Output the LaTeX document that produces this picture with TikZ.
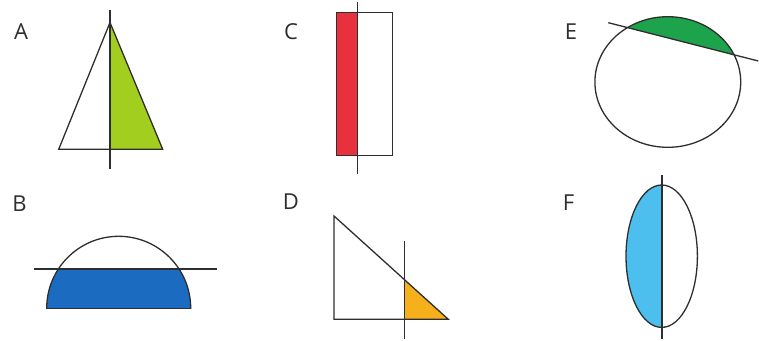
\documentclass[tikz,border=0pt]{standalone}
\usepackage{fontspec}
\setmainfont{Open Sans}
\definecolor{ink}{HTML}{2E2E2E}
\definecolor{limeA}{HTML}{A2CF1F}
\definecolor{redC}{HTML}{E8313C}
\definecolor{greenE}{HTML}{1CA34B}
\definecolor{blueB}{HTML}{1B6CC0}
\definecolor{orangeD}{HTML}{F6B01B}
\definecolor{skyF}{HTML}{4CBFEE}
\tikzset{
  outline/.style={draw=ink, line width=1.3pt, line join=miter},
  axisline/.style={draw=ink, line width=1.3pt},
  letter/.style={text=ink, font=\fontsize{22}{22}\selectfont, inner sep=0pt}
}
\begin{document}
\begin{tikzpicture}[x=1pt,y=-1pt]
\useasboundingbox (0,0) rectangle (759,340);
% labels
\node[letter] (lA) at (21,32) {A};
\node[letter] (lB) at (19.5,204) {B};
\node[letter] (lC) at (291,32) {C};
\node[letter] (lD) at (291,202) {D};
\node[letter] (lE) at (571,32) {E};
\node[letter] (lF) at (568.5,203) {F};
% A
\fill[limeA] (110,22.5) -- (162.7,149.3) -- (110,149.3) -- cycle;
\draw[outline] (110,22.5) -- (162.7,149.3) -- (58.7,149.3) -- cycle;
\draw[axisline] (110,10) -- (110,168.5);
% C
\fill[redC] (336.7,12.7) rectangle (357.7,155.3);
\draw[outline] (336.7,12.7) rectangle (392.7,155.3);
\draw[axisline] (357.7,2) -- (357.7,174);
% E
\begin{scope}
  \clip (590,18.1) -- (760,61.5) -- (760,0) -- (590,0) -- cycle;
  \fill[greenE] (667.8,82) ellipse [x radius=72.9, y radius=65.3];
\end{scope}
\draw[outline] (667.8,82) ellipse [x radius=72.9, y radius=65.3];
\draw[axisline] (608.3,22.7) -- (758.3,61);
% B
\begin{scope}
  \clip (40,269) rectangle (200,308.3);
  \fill[blueB] (118.7,308.3) circle [radius=72];
\end{scope}
\begin{scope}
  \clip (40,200) rectangle (200,308.3);
  \draw[outline] (118.7,308.3) circle [radius=72];
\end{scope}
\draw[outline] (46.7,308.3) -- (190.7,308.3);
\draw[axisline] (34,269) -- (216.7,269);
% D
\begin{scope}
  \clip (404.3,200) rectangle (460,330);
  \fill[orangeD] (334,216) -- (448.3,319.3) -- (334,319.3) -- cycle;
\end{scope}
\draw[outline] (334,216) -- (448.3,319.3) -- (334,319.3) -- cycle;
\draw[axisline] (404.3,241) -- (404.3,339.3);
% F
\begin{scope}
  \clip (600,170) rectangle (661.7,340);
  \fill[skyF] (661.7,256.2) ellipse [x radius=35.7, y radius=71.2];
\end{scope}
\draw[outline] (661.7,256.2) ellipse [x radius=35.7, y radius=71.2];
\draw[axisline, line width=2pt] (661.7,175) -- (661.7,338.5);
\end{tikzpicture}
\end{document}
